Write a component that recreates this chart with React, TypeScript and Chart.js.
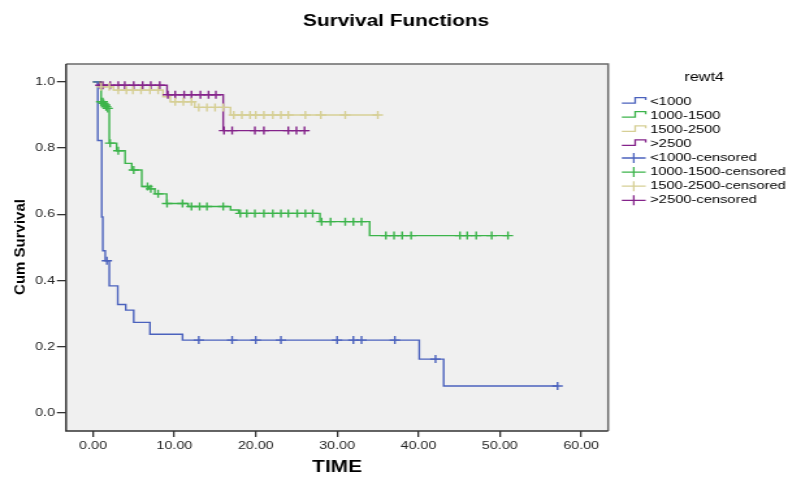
import React, { useEffect, useRef } from 'react';
import { Chart, registerables } from 'chart.js';

Chart.register(...registerables);

// ---------------- data ----------------
const TITLE = 'Survival Functions';
const X_TITLE = 'TIME';
const Y_TITLE = 'Cum Survival';
const LEGEND_TITLE = 'rewt4';
const GROUPS = ['<1000', '1000-1500', '1500-2500', '>2500'];

const X_TICKS = [0, 10, 20, 30, 40, 50, 60];
const Y_TICKS = [0, 0.2, 0.4, 0.6, 0.8, 1.0];

// <1000
const T_LT1000 = [0, 0.58, 1.07, 1.2, 1.5, 2.0, 3.04, 4.02, 5.0, 7.0, 11.0, 40.1, 43.1, 57.1];
const S_LT1000 = [1, 0.823, 0.592, 0.49, 0.46, 0.384, 0.328, 0.311, 0.274, 0.238, 0.2205, 0.163, 0.082, 0.082];
const CT_LT1000 = [1.7, 13.0, 17.1, 20.0, 23.1, 30.0, 32.0, 33.0, 37.1, 42.1, 57.1];
const CS_LT1000 = [0.46, 0.2205, 0.2205, 0.2205, 0.2205, 0.2205, 0.2205, 0.2205, 0.2205, 0.163, 0.082];

// 1000-1500
const T_1000 = [0, 1.0, 1.5, 1.8, 2.0, 2.9, 3.94, 4.76, 5.99, 6.9, 7.6, 9.06, 11.7, 16.9, 17.9, 27.9, 34.0, 51.0];
const S_1000 = [1, 0.94, 0.93, 0.92, 0.815, 0.792, 0.754, 0.734, 0.684, 0.677, 0.662, 0.633, 0.624, 0.613, 0.603, 0.578, 0.536, 0.536];
const CT_1000 = [1.0, 1.2, 1.3, 1.5, 1.6, 1.8, 2.1, 3.1, 5.0, 6.7, 7.1, 8.0, 9.1, 11.0, 12.1, 13.1, 14.0, 16.0,
  18.1, 18.9, 19.9, 21.0, 22.1, 23.1, 24.0, 25.1, 26.1, 27.0, 28.1, 29.2, 31.0, 32.0, 33.0,
  36.0, 37.0, 38.0, 39.1, 45.1, 46.0, 47.1, 49.0, 51.0];
const CS_1000 = [0.94, 0.94, 0.935, 0.93, 0.925, 0.92, 0.815, 0.792, 0.734, 0.684, 0.677, 0.662, 0.633, 0.633, 0.624, 0.624, 0.624, 0.624,
  0.603, 0.603, 0.603, 0.603, 0.603, 0.603, 0.603, 0.603, 0.603, 0.603, 0.578, 0.578, 0.578, 0.578, 0.578,
  0.536, 0.536, 0.536, 0.536, 0.536, 0.536, 0.536, 0.536, 0.536];

// 1500-2500
const T_1500 = [0, 0.8, 2.5, 8.6, 9.5, 12.5, 16.9, 35.0];
const S_1500 = [1, 0.985, 0.975, 0.955, 0.94, 0.923, 0.9, 0.9];
const CT_1500 = [1.0, 2.0, 3.1, 4.1, 4.9, 5.9, 7.0, 8.0, 10.1, 11.1, 12.1, 13.0, 14.0, 15.0, 16.0,
  17.3, 18.3, 19.3, 20.0, 21.0, 22.1, 23.1, 24.0, 26.1, 28.0, 31.0, 35.0];
const CS_1500 = [0.985, 0.985, 0.975, 0.975, 0.975, 0.975, 0.975, 0.975, 0.94, 0.94, 0.94, 0.923, 0.923, 0.923, 0.923,
  0.9, 0.9, 0.9, 0.9, 0.9, 0.9, 0.9, 0.9, 0.9, 0.9, 0.9, 0.9];

// >2500
const T_2500 = [0, 0.6, 9.1, 16.0, 26.5];
const S_2500 = [1, 0.99, 0.961, 0.853, 0.853];
const CT_2500 = [0.9, 1.2, 2.1, 3.1, 3.9, 5.0, 6.1, 7.1, 8.2, 9.2, 10.1, 11.2, 12.1, 13.2, 14.2, 15.1,
  16.1, 17.1, 19.9, 21.0, 24.0, 25.0, 26.0];
const CS_2500 = [0.99, 0.99, 0.99, 0.99, 0.99, 0.99, 0.99, 0.99, 0.99, 0.961, 0.961, 0.961, 0.961, 0.961, 0.961, 0.961,
  0.853, 0.853, 0.853, 0.853, 0.853, 0.853, 0.853];

const CURVES = [
  [T_LT1000, S_LT1000],
  [T_1000, S_1000],
  [T_1500, S_1500],
  [T_2500, S_2500],
];
const CENSORED = [
  [CT_LT1000, CS_LT1000],
  [CT_1000, CS_1000],
  [CT_1500, CS_1500],
  [CT_2500, CS_2500],
];

// ---------------- style ----------------
const COLORS = ['#4b62bd', '#3cb44b', '#d6cf95', '#84238a'];
const FONT = "Arial, 'Liberation Sans', sans-serif";
const SX = 1.3; // horizontal stretch of the picture
const CSS_W = 788;
const CSS_H = 477;
const W = Math.round(CSS_W / SX);
const H = CSS_H;
const bx = (px: number) => px / SX;

const PLOT_LEFT = 66;
const PLOT_RIGHT = 608;
const PLOT_TOP = 64;
const PLOT_BOTTOM = 431;

const decorPlugin = {
  id: 'decor',
  beforeDraw(chart: any) {
    const { ctx, chartArea: a } = chart;
    ctx.save();
    ctx.fillStyle = '#ffffff';
    ctx.fillRect(0, 0, chart.width, chart.height);
    ctx.fillStyle = '#f0f0f0';
    ctx.fillRect(a.left, a.top, a.right - a.left, a.bottom - a.top);
    ctx.restore();
  },
  afterDraw(chart: any) {
    const { ctx, chartArea: a } = chart;
    ctx.save();
    // frame
    ctx.lineWidth = 1.5;
    ctx.strokeStyle = '#6a6a6a';
    ctx.beginPath();
    ctx.moveTo(a.left, a.top);
    ctx.lineTo(a.right, a.top);
    ctx.lineTo(a.right, a.bottom);
    ctx.stroke();
    ctx.strokeStyle = '#333333';
    ctx.beginPath();
    ctx.moveTo(a.left, a.top);
    ctx.lineTo(a.left, a.bottom);
    ctx.lineTo(a.right, a.bottom);
    ctx.stroke();

    ctx.fillStyle = '#000';
    ctx.textAlign = 'center';
    ctx.textBaseline = 'middle';
    // title
    ctx.font = `bold 16px ${FONT}`;
    ctx.fillText(TITLE, bx(396), 22);
    // x title
    ctx.font = `bold 16px ${FONT}`;
    ctx.fillText(X_TITLE, bx(337), 468);
    // y title
    ctx.save();
    ctx.translate(bx(20), 247);
    ctx.scale(1 / SX, 1);
    ctx.rotate(-Math.PI / 2);
    ctx.font = `bold 15px ${FONT}`;
    ctx.fillText(Y_TITLE, 0, 0);
    ctx.restore();

    // legend
    ctx.font = `12.5px ${FONT}`;
    ctx.fillText(LEGEND_TITLE, bx(704), 78);
    const labels = [...GROUPS, ...GROUPS.map((g) => g + '-censored')];
    const x0 = bx(621.7);
    const x1 = bx(645.5);
    const xm = bx(635);
    ctx.textAlign = 'left';
    ctx.font = `11.3px ${FONT}`;
    labels.forEach((lab, i) => {
      const cy = 101.6 + i * 14.1;
      const col = COLORS[i % 4];
      ctx.strokeStyle = col;
      ctx.lineWidth = 1.3;
      ctx.beginPath();
      if (i < 4) {
        ctx.moveTo(x0, cy + 1.5);
        ctx.lineTo(xm, cy + 1.5);
        ctx.lineTo(xm, cy - 4);
        ctx.lineTo(x1, cy - 4);
        ctx.lineTo(x1, cy - 1.5);
      } else {
        const xc = (x0 + x1) / 2;
        ctx.moveTo(x0, cy);
        ctx.lineTo(x1, cy);
        ctx.moveTo(xc, cy - 5);
        ctx.lineTo(xc, cy + 5);
      }
      ctx.stroke();
      ctx.fillStyle = '#000';
      ctx.fillText(lab, bx(650), cy);
    });
    ctx.restore();
  },
};

export default function App() {
  const ref = useRef<HTMLCanvasElement>(null);

  useEffect(() => {
    if (!ref.current) return;
    const curveSets = CURVES.map(([ts, ss], i) => ({
      label: GROUPS[i],
      data: ts.map((t, j) => ({ x: t, y: ss[j] })),
      showLine: true,
      stepped: true,
      borderColor: COLORS[i],
      backgroundColor: COLORS[i],
      borderWidth: 1.4,
      pointRadius: 0,
      fill: false,
      order: 1,
    }));
    const censorSets = CENSORED.map(([ts, ss], i) => ({
      label: GROUPS[i] + '-censored',
      data: ts.map((t, j) => ({ x: t, y: ss[j] })),
      showLine: false,
      pointStyle: 'cross',
      pointRadius: 4,
      borderColor: COLORS[i],
      backgroundColor: COLORS[i],
      pointBorderWidth: 1.4,
      order: 0,
    }));

    const chart = new Chart(ref.current, {
      type: 'scatter',
      data: { datasets: [...censorSets, ...curveSets] as any },
      options: {
        animation: false,
        responsive: false,
        devicePixelRatio: 1,
        events: [],
        layout: {
          padding: { top: PLOT_TOP, left: 0, bottom: 0, right: W - bx(PLOT_RIGHT) },
        },
        plugins: {
          legend: { display: false },
          tooltip: { enabled: false },
          title: { display: false },
        },
        scales: {
          x: {
            type: 'linear',
            min: -3.32,
            max: 63.32,
            afterBuildTicks: (s: any) => {
              s.ticks = X_TICKS.map((v) => ({ value: v }));
            },
            afterFit: (s: any) => {
              s.height = H - PLOT_BOTTOM;
            },
            border: { display: false },
            grid: {
              drawOnChartArea: false,
              drawTicks: true,
              tickLength: 6,
              color: '#333',
              lineWidth: 1.3,
            },
            ticks: {
              padding: 2,
              color: '#222',
              font: { family: FONT, size: 11 },
              callback: (v: any) => Number(v).toFixed(2),
              maxRotation: 0,
            },
          },
          y: {
            type: 'linear',
            min: -0.054,
            max: 1.054,
            afterBuildTicks: (s: any) => {
              s.ticks = Y_TICKS.map((v) => ({ value: v }));
            },
            afterFit: (s: any) => {
              s.width = bx(PLOT_LEFT);
            },
            border: { display: false },
            grid: {
              drawOnChartArea: false,
              drawTicks: true,
              tickLength: 7,
              color: '#333',
              lineWidth: 1.3,
            },
            ticks: {
              padding: 1.5,
              color: '#222',
              font: { family: FONT, size: 11 },
              callback: (v: any) => Number(v).toFixed(1),
            },
          },
        },
      },
      plugins: [decorPlugin],
    } as any);
    return () => chart.destroy();
  }, []);

  return (
    <div style={{ position: 'absolute', left: 0, top: 0, width: CSS_W, height: CSS_H, background: '#fff' }}>
      <canvas ref={ref} width={W} height={H} style={{ width: CSS_W, height: CSS_H, display: 'block' }} />
    </div>
  );
}
